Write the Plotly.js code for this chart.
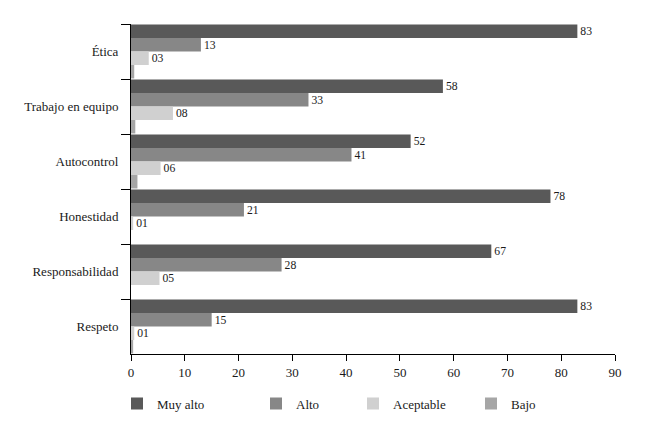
<!DOCTYPE html>
<html>
<head>
<meta charset="utf-8">
<script src="https://cdn.plot.ly/plotly-3.0.1.min.js"></script>
<style>html,body{margin:0;padding:0;background:#fff;}#chart{width:645px;height:431px;}</style>
</head>
<body>
<div id="chart"></div>
<script>
const categories = ["Ética", "Trabajo en equipo", "Autocontrol", "Honestidad", "Responsabilidad", "Respeto"];
const seriesNames = ["Muy alto", "Alto", "Aceptable", "Bajo"];
const muyAlto = [83, 58, 52, 78, 67, 83];
const alto = [13, 33, 41, 21, 28, 15];
const aceptable = [3.3, 7.8, 5.5, 0.4, 5.3, 0.6];
const bajo = [0.6, 0.8, 1.2, 0, 0, 0.4];
const muyAltoLabels = ["83", "58", "52", "78", "67", "83"];
const altoLabels = ["13", "33", "41", "21", "28", "15"];
const aceptableLabels = ["03", "08", "06", "01", "05", "01"];
const xTicks = [0, 10, 20, 30, 40, 50, 60, 70, 80, 90];
const colors = ["#595959", "#878787", "#d0d0d0", "#a6a6a6"];

const FONT = "Liberation Serif";
const values = [muyAlto, alto, aceptable, bajo];
const labels = [muyAltoLabels, altoLabels, aceptableLabels, null];
const legendNames = ["legend", "legend2", "legend3", "legend4"];

const traces = values.map((v, i) => ({
  type: "bar",
  orientation: "h",
  name: seriesNames[i],
  y: categories,
  x: v,
  marker: {color: colors[i], line: {width: 0}},
  text: labels[i] || undefined,
  textposition: labels[i] ? "outside" : "none",
  textfont: {family: FONT, size: 13, color: "#1a1a1a"},
  cliponaxis: false,
  hoverinfo: "x+y",
  legend: legendNames[i]
}));

const legendX = [131, 270, 367, 485];
const legendBase = {
  orientation: "h",
  y: -0.105,
  yanchor: "top",
  xanchor: "left",
  font: {family: FONT, size: 13, color: "#1a1a1a"},
  bgcolor: "rgba(0,0,0,0)",
  itemwidth: 30
};
const layout = {
  width: 645,
  height: 431,
  margin: {l: 131, r: 30, t: 24, b: 74},
  paper_bgcolor: "#fff",
  plot_bgcolor: "#fff",
  font: {family: FONT, size: 13, color: "#1a1a1a"},
  barmode: "group",
  bargap: 0.02,
  bargroupgap: 0,
  showlegend: true,
  xaxis: {
    range: [0, 90],
    tickvals: xTicks,
    ticks: "outside",
    ticklen: 6,
    tickcolor: "#000",
    showline: true,
    linecolor: "#000",
    linewidth: 1,
    showgrid: false,
    zeroline: false,
    tickfont: {family: FONT, size: 13, color: "#1a1a1a"}
  },
  yaxis: {
    autorange: "reversed",
    tickson: "boundaries",
    ticks: "outside",
    ticklen: 9,
    tickcolor: "#000",
    showline: true,
    linecolor: "#000",
    linewidth: 1,
    showgrid: false,
    zeroline: false,
    ticklabelstandoff: 9,
    tickfont: {family: FONT, size: 13, color: "#1a1a1a"}
  }
};
legendNames.forEach((ln, i) => {
  layout[ln] = Object.assign({}, legendBase, {x: (legendX[i] - 131 - 14) / 484});
});

Plotly.newPlot("chart", traces, layout, {displayModeBar: false, staticPlot: true});
</script>
</body>
</html>
